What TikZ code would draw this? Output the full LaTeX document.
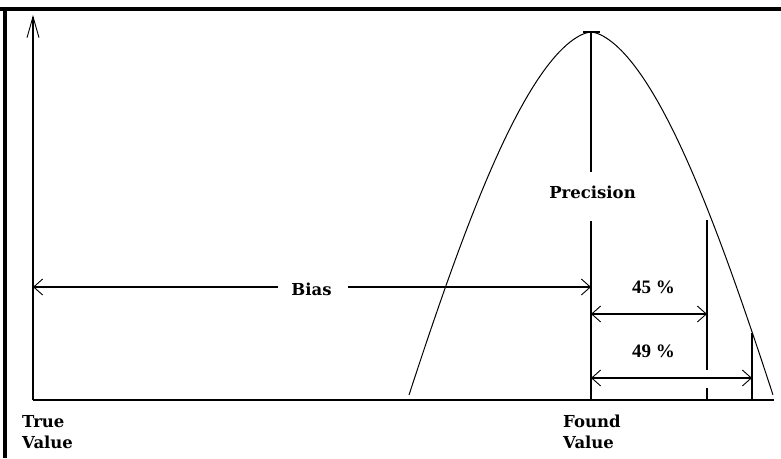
\documentclass[tikz,border=0pt]{standalone}
\usepackage{fontspec}
\newfontfamily\lblfont{DejaVu Serif}
\newfontfamily\numfont{Liberation Serif}
\usetikzlibrary{arrows.meta}
\begin{document}
\begin{tikzpicture}[x=1pt,y=-1pt,
  lbl/.style={font=\lblfont\bfseries\fontsize{16.5}{19}\selectfont, inner sep=0pt},
  pct/.style={font=\numfont\bfseries\fontsize{19}{22}\selectfont, inner sep=0pt},
  ln/.style={line width=1.2pt, line cap=butt},
  barb/.tip={Straight Barb[length=9pt,width=16pt,line width=0.9pt]},
  headarr/.style={ln, -{barb}},
  dimarr/.style={ln, {barb}-{barb}},
  frame/.style={line width=4pt},
  curve/.style={line width=1pt}
]
\useasboundingbox (0,0) rectangle (781,458);
% frame
\draw[frame] (0,9) -- (781,9);
\draw[frame] (5,7) -- (5,458);

% coordinates
\coordinate (O) at (33,400);
\coordinate (ytop) at (33,15);
\coordinate (xend) at (774,400);
\coordinate (peak) at (591,32);
\coordinate (precTop) at (591,172);
\coordinate (precBot) at (591,221);
\coordinate (found) at (591,400);
\coordinate (biasL) at (33,287);
\coordinate (biasLgap) at (278,287);
\coordinate (biasRgap) at (348,287);
\coordinate (biasR) at (591,287);
\coordinate (a45L) at (591,314);
\coordinate (a45R) at (707,314);
\coordinate (v45top) at (707,220);
\coordinate (v45gapT) at (707,370);
\coordinate (v45gapB) at (707,388);
\coordinate (v45bot) at (707,400);
\coordinate (a49L) at (591,378);
\coordinate (a49R) at (752,378);
\coordinate (v49top) at (752,333);
\coordinate (v49bot) at (752,400);

% labels
\node[lbl, anchor=base] (prec) at (592.5,198) {Precision};
\node[lbl, anchor=base] (bias) at (311.5,295) {Bias};
\node[lbl, anchor=base west] (tv1) at (22,427) {True};
\node[lbl, anchor=base west] (tv2) at (22,448) {Value};
\node[lbl, anchor=base west] (fv1) at (563,427) {Found};
\node[lbl, anchor=base west] (fv2) at (563,448) {Value};
\node[pct, anchor=base] (p45) at (653.5,293) {45 \%};
\node[pct, anchor=base] (p49) at (653.5,357) {49 \%};

% axes
\draw[ln, -{Straight Barb[length=21pt,width=12pt,line width=0.9pt]}] (O) -- (ytop);
\draw[line width=1.6pt] (O) -- (xend);

% distribution curve
\draw[curve] plot[domain=-1:1, samples=121, smooth]
  ({591+182*\x}, {32+363*0.5*(abs(\x)*sqrt(abs(\x)) + 1 - cos(90*\x))});

% precision line
\draw[ln] (peak) -- (precTop);
\draw[ln] (precBot) -- (found);
\draw[ln] (583,32) -- (600,32);

% bias arrow
\draw[headarr] (biasLgap) -- (biasL);
\draw[headarr] (biasRgap) -- (biasR);

% 45 %
\draw[ln] (v45top) -- (v45gapT);
\draw[ln] (v45gapB) -- (v45bot);
\draw[dimarr] (a45L) -- (a45R);

% 49 %
\draw[ln] (v49top) -- (v49bot);
\draw[dimarr] (a49L) -- (a49R);
\end{tikzpicture}
\end{document}
